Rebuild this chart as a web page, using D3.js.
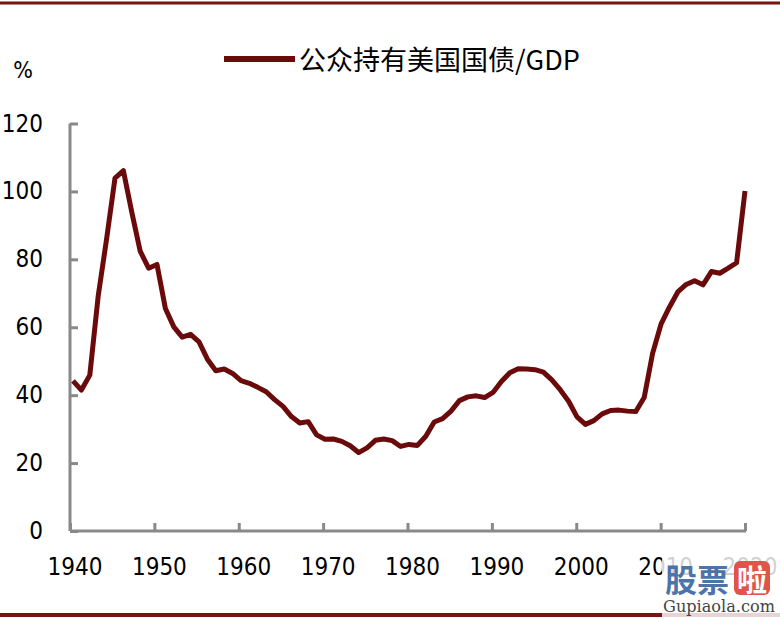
<!DOCTYPE html>
<html><head><meta charset="utf-8">
<script src="https://cdn.jsdelivr.net/npm/d3@7"></script>
<style>body{margin:0;background:#fff}svg{display:block}</style>
</head><body>
<svg id="c" width="780" height="619"></svg>
<script>
const years = d3.range(1940, 2021);
const debtToGDP = [44.2,41.5,45.9,69.2,86.0,103.9,106.1,93.9,82.4,77.4,
  78.5,65.5,60.1,57.1,57.9,55.7,50.6,47.2,47.7,46.4,
  44.3,43.5,42.3,41.0,38.7,36.7,33.7,31.8,32.2,28.3,
  27.0,27.1,26.4,25.1,23.1,24.5,26.7,27.1,26.6,24.9,
  25.5,25.2,27.9,32.1,33.1,35.3,38.4,39.5,39.8,39.3,
  40.8,44.0,46.6,47.8,47.7,47.5,46.8,44.5,41.6,38.2,
  33.6,31.4,32.5,34.5,35.5,35.6,35.3,35.2,39.3,52.3,
  60.9,65.9,70.4,72.6,73.7,72.5,76.4,75.9,77.4,79.0,100.1];
const xTickYears = [1940,1950,1960,1970,1980,1990,2000,2010,2020];
const yTicks = [0,20,40,60,80,100,120];
const seriesName = "公众持有美国国债/GDP";
const unitLabel = "%";

const svg = d3.select("#c");
const red = "#6b0a0a";
const gray = "#898989";
const numFont = "'DejaVu Sans Condensed','DejaVu Sans',sans-serif";

const xAxisScale = d3.scaleLinear().domain([1940, 2020]).range([70, 745]);
const xData = d3.scaleLinear().domain([1940, 2020]).range([73, 745]);
const y = d3.scaleLinear().domain([0, 120]).range([531, 123.5]);

// top & bottom frame lines
svg.append("line").attr("x1",0).attr("x2",780).attr("y1",3).attr("y2",3)
  .attr("stroke","#7a1414").attr("stroke-width",3);
svg.append("line").attr("x1",0).attr("x2",780).attr("y1",615).attr("y2",615)
  .attr("stroke","#7a1414").attr("stroke-width",4);

// y axis
const gy = svg.append("g").attr("transform","translate(70,0)")
  .call(d3.axisRight(y).tickValues(yTicks).tickSize(8).tickFormat(""));
gy.select(".domain").attr("stroke",gray).attr("stroke-width",3).attr("d","M0,"+y(120)+"V"+y(0));
gy.selectAll(".tick line").attr("stroke",gray).attr("stroke-width",3);
svg.append("g").selectAll("text").data(yTicks).join("text")
  .attr("x",43).attr("y",d=>y(d)).attr("text-anchor","end").attr("dominant-baseline","central")
  .attr("font-family",numFont).attr("font-size",24).attr("fill","#000").text(d=>d);

// x axis
const gx = svg.append("g").attr("transform","translate(0,"+y(0)+")")
  .call(d3.axisTop(xAxisScale).tickValues(xTickYears).tickSize(8).tickFormat(""));
gx.select(".domain").attr("stroke",gray).attr("stroke-width",3).attr("d","M70,0H746");
gx.selectAll(".tick line").attr("stroke",gray).attr("stroke-width",3);
svg.append("g").selectAll("text").data(xTickYears).join("text")
  .attr("x",d=>xAxisScale(d)+5).attr("y",567).attr("text-anchor","middle").attr("dominant-baseline","central")
  .attr("font-family",numFont).attr("font-size",24).attr("fill","#000").text(d=>d);

// unit
svg.append("text").attr("x",23).attr("y",70).attr("text-anchor","middle").attr("dominant-baseline","central")
  .attr("font-family",numFont).attr("font-size",23).text(unitLabel);

// legend
svg.append("line").attr("x1",224).attr("x2",295).attr("y1",59).attr("y2",59)
  .attr("stroke",red).attr("stroke-width",6);
svg.append("text").attr("x",299).attr("y",58).attr("dominant-baseline","central")
  .attr("font-family","'Noto Sans CJK SC',sans-serif").attr("font-size",27).attr("fill","#000")
  .text(seriesName);

// series line
const line = d3.line().x((d,i)=>xData(years[i])).y(d=>y(d));
svg.append("path").datum(debtToGDP).attr("d",line).attr("fill","none")
  .attr("stroke",red).attr("stroke-width",5).attr("stroke-linejoin","round").attr("stroke-linecap","butt");

// watermark
const wm = svg.append("g");
wm.append("rect").attr("x",662).attr("y",552).attr("width",118).attr("height",67).attr("fill","#fff").attr("opacity",0.82);
wm.append("text").attr("x",665).attr("y",578).attr("dominant-baseline","central")
  .attr("font-family","'Noto Sans CJK SC',sans-serif").attr("font-weight",700).attr("font-size",32)
  .attr("fill","#4d74a8").text("股票");
wm.append("rect").attr("x",734).attr("y",561).attr("width",36).attr("height",34).attr("rx",6).attr("fill","#e0554a");
wm.append("text").attr("x",752).attr("y",578).attr("text-anchor","middle").attr("dominant-baseline","central")
  .attr("font-family","'Noto Sans CJK SC',sans-serif").attr("font-weight",700).attr("font-size",30)
  .attr("fill","#fff").text("啦");
wm.append("text").attr("x",663).attr("y",606).attr("dominant-baseline","central")
  .attr("font-family","'DejaVu Serif',serif").attr("font-size",16).attr("fill","#444")
  .attr("textLength",112).attr("lengthAdjust","spacingAndGlyphs").text("Gupiaola.com");
</script>
</body></html>
